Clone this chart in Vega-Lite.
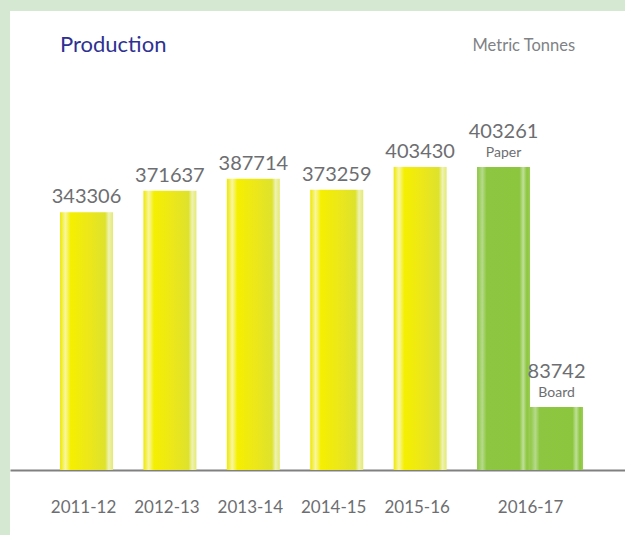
{
  "$schema": "https://vega.github.io/schema/vega-lite/v6.json",
  "width": 615,
  "height": 524,
  "autosize": {"type": "none"},
  "padding": {"left": 10, "top": 11, "right": 0, "bottom": 0},
  "background": "#d4e8d2",
  "config": {
    "view": {"fill": "white", "stroke": null},
    "font": "Lato"
  },
  "title": {
    "text": "Production",
    "anchor": "start",
    "frame": "group",
    "orient": "top",
    "offset": -63,
    "dx": 50,
    "baseline": "alphabetic",
    "font": "Lato",
    "fontSize": 22,
    "fontWeight": "normal",
    "color": "#2e3192"
  },
  "data": {
    "values": [
      {"year": "2011-12", "type": "Total", "value": 343306},
      {"year": "2012-13", "type": "Total", "value": 371637},
      {"year": "2013-14", "type": "Total", "value": 387714},
      {"year": "2014-15", "type": "Total", "value": 373259},
      {"year": "2015-16", "type": "Total", "value": 403430},
      {"year": "2016-17", "type": "Paper", "value": 403261},
      {"year": "2016-17", "type": "Board", "value": 83742}
    ]
  },
  "encoding": {
    "x": {
      "field": "year",
      "type": "nominal",
      "sort": null,
      "scale": {"paddingInner": 0.3645, "paddingOuter": 0.869, "align": 0.345},
      "axis": {
        "title": null,
        "orient": "bottom",
        "offset": -65,
        "labelAngle": 0,
        "ticks": false,
        "domainColor": "#808080",
        "domainWidth": 2,
        "labelPadding": 29,
        "labelBaseline": "top",
        "labelFont": "Lato",
        "labelFontSize": 17,
        "labelColor": "#6d6e71",
        "labelOffset": {"condition": {"test": "datum.value === '2016-17'", "value": 27}, "value": -3}
      }
    },
    "y": {
      "field": "value",
      "type": "quantitative",
      "scale": {"domain": [-86550, 611130], "zero": false, "nice": false},
      "axis": {
        "orient": "right",
        "title": "Metric Tonnes",
        "titleAngle": 0,
        "titleAlign": "left",
        "titleBaseline": "alphabetic",
        "titleX": -153,
        "titleY": 39,
        "titleFont": "Lato",
        "titleFontSize": 16.5,
        "titleFontWeight": "normal",
        "titleColor": "#808285",
        "domain": false,
        "ticks": false,
        "labels": false,
        "grid": false
      }
    }
  },
  "layer": [
    {
      "transform": [{"filter": "datum.type === 'Total'"}],
      "mark": {
        "type": "bar",
        "fill": {
          "gradient": "linear", "x1": 0, "x2": 1, "y1": 0, "y2": 0,
          "stops": [
            {"offset": 0, "color": "#eee800"},
            {"offset": 0.1, "color": "#f9f6a0"},
            {"offset": 0.2, "color": "#f5ef00"},
            {"offset": 0.55, "color": "#ece71a"},
            {"offset": 0.85, "color": "#dde22c"},
            {"offset": 0.92, "color": "#eef2b4"},
            {"offset": 1, "color": "#e4ea70"}
          ]
        }
      }
    },
    {
      "transform": [{"filter": "datum.type !== 'Total'"}],
      "mark": {
        "type": "bar",
        "fill": {
          "gradient": "linear", "x1": 0, "x2": 1, "y1": 0, "y2": 0,
          "stops": [
            {"offset": 0, "color": "#8cc63f"},
            {"offset": 0.1, "color": "#b5da8a"},
            {"offset": 0.18, "color": "#8dc640"},
            {"offset": 0.8, "color": "#8cc63f"},
            {"offset": 0.87, "color": "#bfe098"},
            {"offset": 0.94, "color": "#8cc63f"},
            {"offset": 1, "color": "#9ccd55"}
          ]
        }
      },
      "encoding": {
        "xOffset": {"field": "type", "type": "nominal", "sort": null, "scale": {"domain": ["Paper", "Board"], "range": [0, 106], "paddingInner": 0, "paddingOuter": 0}}
      }
    },
    {
      "transform": [{"filter": "datum.type === 'Total'"}],
      "mark": {"type": "text", "dy": -9, "baseline": "alphabetic", "font": "Lato", "fontSize": 20, "color": "#6d6e71"},
      "encoding": {"text": {"field": "value", "type": "nominal"}}
    },
    {
      "transform": [{"filter": "datum.type !== 'Total'"}],
      "mark": {"type": "text", "dy": -29, "baseline": "alphabetic", "font": "Lato", "fontSize": 20, "color": "#6d6e71"},
      "encoding": {
        "xOffset": {"field": "type", "type": "nominal", "sort": null},
        "text": {"field": "value", "type": "nominal"}
      }
    },
    {
      "transform": [{"filter": "datum.type !== 'Total'"}],
      "mark": {"type": "text", "dy": -10, "baseline": "alphabetic", "font": "Lato", "fontSize": 14, "color": "#6d6e71"},
      "encoding": {
        "xOffset": {"field": "type", "type": "nominal", "sort": null},
        "text": {"field": "type", "type": "nominal"}
      }
    }
  ]
}
